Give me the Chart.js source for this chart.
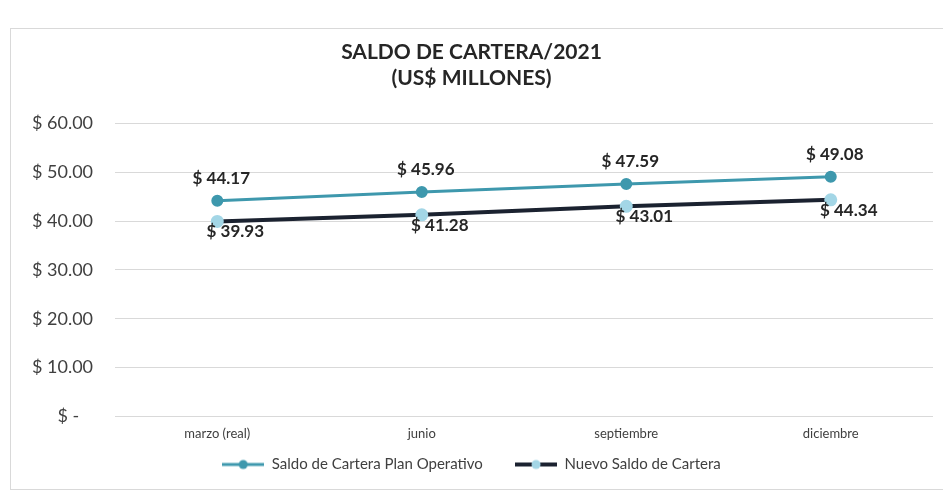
<!DOCTYPE html>
<html>
<head>
<meta charset="utf-8">
<script src="https://cdn.jsdelivr.net/npm/chart.js@4.4.0/dist/chart.umd.min.js"></script>
<style>
    html, body { margin: 0; padding: 0; background: #fff; }
    #frame {
        position: absolute; left: 10px; top: 28px; width: 935px; height: 462px;
        border: 1px solid #d9d9d9; box-sizing: border-box;
    }
    #wrap { position: absolute; left: 0; top: 0; width: 943px; height: 495px; }
</style>
</head>
<body>
<div id="frame"></div>
<div id="wrap"><canvas id="saldoChart"></canvas></div>
<script>
// Saldo de cartera 2021 (US$ millones)
const categories = ['marzo (real)', 'junio', 'septiembre', 'diciembre'];
const planOperativo = [44.17, 45.96, 47.59, 49.08];
const nuevoSaldo = [39.93, 41.28, 43.01, 44.34];
const yTicks = [0, 10, 20, 30, 40, 50, 60];

const FONT = 'Lato, "Open Sans", sans-serif';

function money(v) {
    return v === 0 ? '$ -   ' : '$ ' + v.toFixed(2);
}

// little "line with marker" swatch for the legend, like Excel
function legendSwatch(lineColor, dotColor, lineW) {
    const c = document.createElement('canvas');
    c.width = 42; c.height = 12;
    const g = c.getContext('2d');
    g.strokeStyle = lineColor;
    g.lineWidth = lineW;
    g.beginPath(); g.moveTo(0, 6); g.lineTo(42, 6); g.stroke();
    g.fillStyle = dotColor;
    g.beginPath(); g.arc(21, 6, 4.5, 0, Math.PI * 2); g.fill();
    return c;
}

// draws the value labels: first series above, second below-right
const valueLabels = {
    id: 'valueLabels',
    afterDatasetsDraw(chart) {
        const ctx = chart.ctx;
        ctx.save();
        ctx.font = 'bold 17px ' + FONT;
        ctx.fillStyle = '#262626';
        ctx.textAlign = 'center';
        chart.data.datasets.forEach((ds, i) => {
            const meta = chart.getDatasetMeta(i);
            meta.data.forEach((pt, j) => {
                const txt = money(ds.data[j]);
                if (i === 0) {
                    ctx.textBaseline = 'bottom';
                    ctx.fillText(txt, pt.x + 4, pt.y - 14);
                } else {
                    ctx.textBaseline = 'top';
                    ctx.fillText(txt, pt.x + 18, pt.y + 2);
                }
            });
        });
        ctx.restore();
    }
};

const swatches = [
    legendSwatch('#3e98ad', '#3e98ad', 3),
    legendSwatch('#1b2230', '#a3d6e6', 4)
];

const ctx = document.getElementById('saldoChart').getContext('2d');
new Chart(ctx, {
    type: 'line',
    data: {
        labels: categories,
        datasets: [{
            label: 'Saldo de Cartera Plan Operativo',
            data: planOperativo,
            borderColor: '#3e98ad',
            backgroundColor: '#3e98ad',
            pointBackgroundColor: '#3e98ad',
            pointBorderColor: '#3e98ad',
            borderWidth: 3,
            pointRadius: 4.5
        }, {
            label: 'Nuevo Saldo de Cartera',
            data: nuevoSaldo,
            borderColor: '#1b2230',
            backgroundColor: '#1b2230',
            pointBackgroundColor: '#a3d6e6',
            pointBorderColor: '#a3d6e6',
            borderWidth: 4,
            pointRadius: 4.5
        }]
    },
    options: {
        responsive: true,
        maintainAspectRatio: false,
        animation: false,
        layout: { padding: { left: 10, right: 10, top: 36, bottom: 13 } },
        plugins: {
            title: {
                display: true,
                text: ['SALDO DE CARTERA/2021', '(US$ MILLONES)'],
                color: '#262626',
                font: { family: FONT, size: 21, weight: 'bold' },
                padding: { top: 4, bottom: 33 }
            },
            legend: {
                position: 'bottom',
                labels: {
                    color: '#404040',
                    font: { family: FONT, size: 15 },
                    usePointStyle: true,
                    pointStyleWidth: 42,
                    padding: 13,
                    generateLabels: chart => chart.data.datasets.map((ds, i) => ({
                        text: ds.label + (i === 0 ? '     ' : ''),
                        pointStyle: swatches[i],
                        fontColor: '#404040',
                        datasetIndex: i,
                        hidden: false,
                        lineWidth: 0
                    }))
                }
            },
            tooltip: { enabled: false }
        },
        scales: {
            x: {
                offset: true,
                grid: { display: false },
                border: { display: false },
                ticks: {
                    color: '#404040',
                    font: { family: FONT, size: 13 },
                    padding: 2
                }
            },
            y: {
                min: 0,
                max: 60,
                afterBuildTicks: axis => { axis.ticks = yTicks.map(v => ({ value: v })); },
                grid: { color: '#d9d9d9', lineWidth: 1, drawTicks: false },
                border: { display: false },
                ticks: {
                    color: '#404040',
                    font: { family: FONT, size: 18 },
                    padding: 22,
                    callback: v => money(v)
                }
            }
        }
    },
    plugins: [valueLabels]
});
</script>
</body>
</html>
